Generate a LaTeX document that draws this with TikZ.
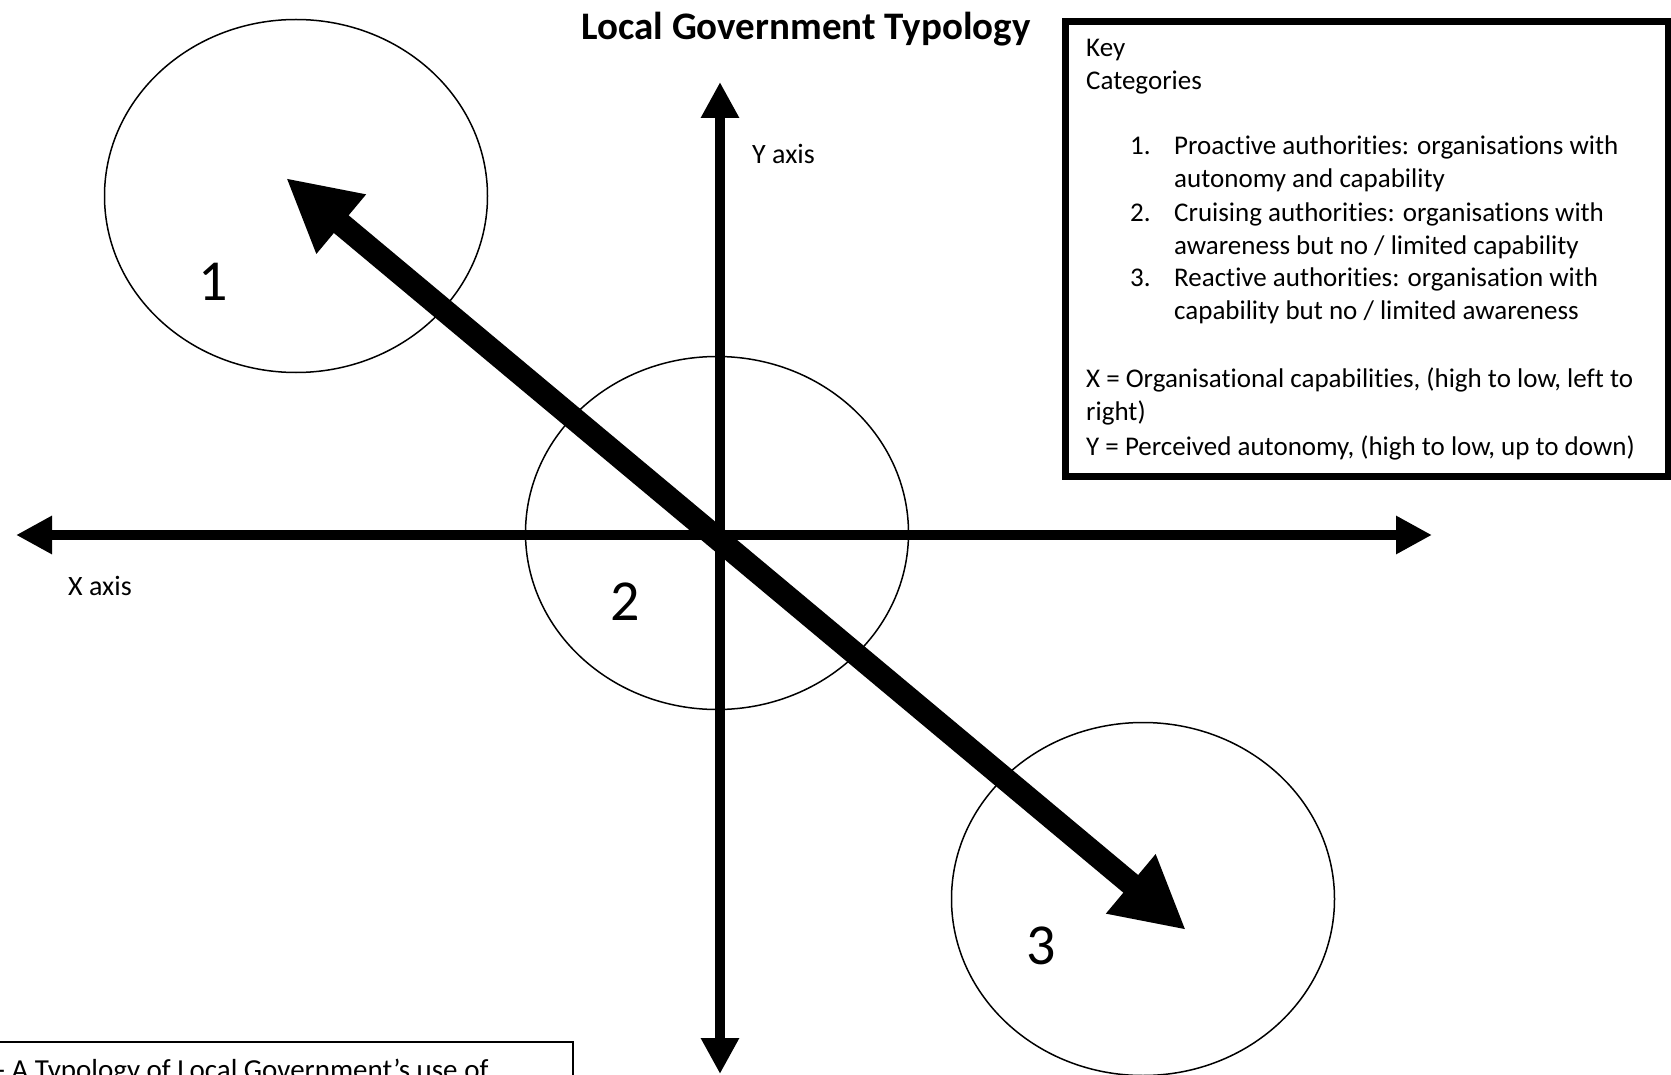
\documentclass[tikz,border=0pt]{standalone}
\usepackage{fontspec}
\setmainfont{Carlito}[Ligatures={TeX,NoCommon}]
\usetikzlibrary{arrows.meta,shapes.geometric}

\tikzset{
  axis/.style={line width=10pt, {Triangle[length=36pt,width=36pt]}-{Triangle[length=36pt,width=36pt]}},
  trend/.style={line width=23pt, {Triangle[length=72pt,width=72pt]}-{Triangle[length=72pt,width=72pt]}},
  zone/.style={draw, ellipse, line width=1.5pt, minimum width=383pt, minimum height=353pt, inner sep=0pt},
  zonenum/.style={font=\fontsize{58}{64}\selectfont},
  keytext/.style={anchor=base west, inner sep=0pt, font=\fontsize{27}{33}\selectfont},
}

\begin{document}
\begin{tikzpicture}[x=1pt,y=-1pt]
    \useasboundingbox (0,0) rectangle (1671,1075);
    \clip (0,0) rectangle (1671,1075);

    % Zones
    \node[zone] (c1) at (296,196) {};
    \node[zone] (c2) at (717,533) {};
    \node[zone] (c3) at (1143,899) {};
    \node[zonenum] (n1) at (213,282) {1};
    \node[zonenum] (n2) at (625,602) {2};
    \node[zonenum] (n3) at (1041,946) {3};

    % Axes
    \coordinate (xl) at (16,535);
    \coordinate (xr) at (1432,535);
    \coordinate (yt) at (720,82);
    \coordinate (yb) at (720,1074);
    \draw[axis] (xl) -- (xr);
    \draw[axis] (yt) -- (yb);
    \node[keytext, font=\fontsize{28}{33}\selectfont] (xlab) at (68,595) {X axis};
    \node[keytext, font=\fontsize{28}{33}\selectfont] (ylab) at (752,164) {Y axis};

    % Diagonal
    \coordinate (hi) at (286,178);
    \coordinate (lo) at (1186,930);
    \draw[trend] (hi) -- (lo);

    % Title
    \node[anchor=base, inner sep=0pt, font=\bfseries\fontsize{39}{45}\selectfont] (title) at (806,40) {Local Government Typology};

    % Key
    \node[draw, line width=7pt, minimum width=603pt, minimum height=454pt, anchor=north west, inner sep=0pt] (key) at (1061.5,18.5) {};
    \node[keytext] (k0) at (1086,57) {Key};
    \node[keytext] (k1) at (1086,90) {Categories};
    \node[keytext] (i1) at (1130,155) {1.};
    \node[keytext] (t1) at (1174,155) {Proactive authorities: organisations with};
    \node[keytext] (t1b) at (1174,188) {autonomy and capability};
    \node[keytext] (i2) at (1130,222) {2.};
    \node[keytext] (t2) at (1174,222) {Cruising authorities: organisations with};
    \node[keytext] (t2b) at (1174,255) {awareness but no / limited capability};
    \node[keytext] (i3) at (1130,287) {3.};
    \node[keytext] (t3) at (1174,287) {Reactive authorities: organisation with};
    \node[keytext] (t3b) at (1174,320) {capability but no / limited awareness};
    \node[keytext] (kx) at (1086,388) {X = Organisational capabilities, (high to low, left to};
    \node[keytext] (kx2) at (1086,420) {right)};
    \node[keytext] (ky) at (1086,455) {Y = Perceived autonomy, (high to low, up to down)};

    % Caption
    \draw[line width=1.5pt] (-20,1042) rectangle (573,1200);
    \node[keytext, font=\fontsize{29}{34}\selectfont] (cap) at (-4,1079) {- A Typology of Local Government’s use of};
\end{tikzpicture}
\end{document}
